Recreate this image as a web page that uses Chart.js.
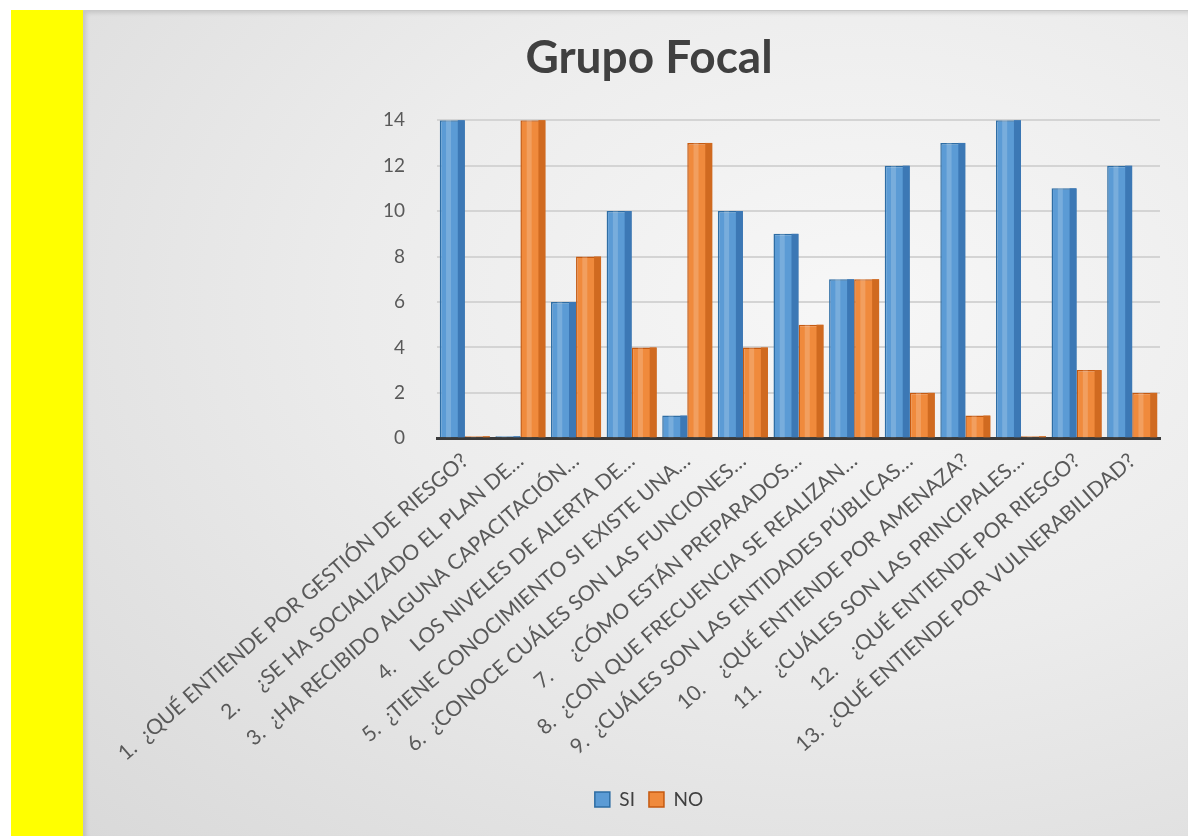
<!DOCTYPE html>
<html>
<head>
<meta charset="utf-8">
<script src="https://cdn.jsdelivr.net/npm/chart.js@4/dist/chart.umd.min.js"></script>
<style>
  html, body { margin: 0; padding: 0; background: #fff; }
  body { width: 1188px; height: 836px; position: relative; overflow: hidden; }
  #strip { position: absolute; left: 11px; top: 10px; width: 72px; height: 826px; background: #ffff00; }
  #panel {
    position: absolute; left: 83px; top: 10px; width: 1105px; height: 826px;
    background: radial-gradient(ellipse at 70% 35%, #f7f7f7 0%, #ececec 45%, #d9d9d9 100%);
    border-top: 1px solid #c8c8c8;
    box-shadow: inset 3px 2px 4px rgba(0,0,0,0.12);
  }
  #panel canvas { position: absolute; left: 0; top: 0; }
</style>
</head>
<body>
<div id="strip"></div>
<div id="panel"><canvas id="chart" width="1105" height="826"></canvas></div>
<script>
const questions = [
  '1.  ¿QUÉ ENTIENDE POR GESTIÓN DE RIESGO?',
  '2.     ¿SE HA SOCIALIZADO EL PLAN DE…',
  '3.  ¿HA RECIBIDO ALGUNA CAPACITACIÓN…',
  '4.     LOS NIVELES DE ALERTA DE…',
  '5.  ¿TIENE CONOCIMIENTO SI EXISTE UNA…',
  '6.  ¿CONOCE CUÁLES SON LAS FUNCIONES…',
  '7.     ¿CÓMO ESTÁN PREPARADOS…',
  '8.  ¿CON QUE FRECUENCIA SE REALIZAN…',
  '9.  ¿CUÁLES SON LAS ENTIDADES PÚBLICAS…',
  '10.    ¿QUÉ ENTIENDE POR AMENAZA?',
  '11.    ¿CUÁLES SON LAS PRINCIPALES…',
  '12.    ¿QUÉ ENTIENDE POR RIESGO?',
  '13.  ¿QUÉ ENTIENDE POR VULNERABILIDAD?'
]
const siValues = [14, 0, 6, 10, 1, 10, 9, 7, 12, 13, 14, 11, 12]
const noValues = [0, 14, 8, 4, 13, 4, 5, 7, 2, 1, 0, 3, 2]
const yTicks = [0, 2, 4, 6, 8, 10, 12, 14]

// fake the 3d look: darker side strip and a lighter stripe on each bar
const bevel = {
  id: 'bevel',
  afterDatasetsDraw(chart) {
    const ctx = chart.ctx
    chart.data.datasets.forEach((ds, i) => {
      chart.getDatasetMeta(i).data.forEach((bar) => {
        const w = bar.width
        const h = bar.base - bar.y
        if (h < 1) return
        const left = bar.x - w / 2
        ctx.save()
        ctx.fillStyle = ds.sideColor
        ctx.fillRect(left + w * 0.72, bar.y, w * 0.28, h)
        ctx.fillStyle = 'rgba(255,255,255,0.18)'
        ctx.fillRect(left + w * 0.25, bar.y, w * 0.2, h)
        ctx.restore()
      })
    })
  }
}

const ctx = document.getElementById('chart')
new Chart(ctx, {
  type: 'bar',
  data: {
    labels: questions,
    datasets: [
      { label: 'SI', data: siValues, backgroundColor: '#5b9bd5', borderColor: '#2e6da4', borderWidth: 1.5, sideColor: '#3c78b5' },
      { label: 'NO', data: noValues, backgroundColor: '#f08a3c', borderColor: '#c55a11', borderWidth: 1.5, sideColor: '#d06a20' }
    ]
  },
  options: {
    responsive: false,
    animation: false,
    layout: { padding: { top: 16, right: 28, bottom: 18, left: 55 } },
    datasets: { bar: { categoryPercentage: 0.9, barPercentage: 1.0, minBarLength: 2 } },
    plugins: {
      title: {
        display: true, text: 'Grupo Focal', color: '#404040',
        font: { family: 'Lato', size: 46, weight: 'bold' },
        padding: { top: 4, bottom: 34 }
      },
      legend: {
        position: 'bottom',
        labels: {
          color: '#404040', boxWidth: 15, boxHeight: 15, padding: 14,
          font: { family: 'Lato', size: 19 }
        }
      },
      tooltip: { enabled: false }
    },
    scales: {
      x: {
        grid: { display: false, drawTicks: false },
        border: { display: true, color: '#3a3a3a', width: 3 },
        ticks: {
          autoSkip: false, minRotation: 41, maxRotation: 41, padding: 10,
          color: '#595959', font: { family: 'Lato', size: 21 }
        }
      },
      y: {
        min: 0, max: 14,
        afterBuildTicks: (scale) => { scale.ticks = yTicks.map((v) => ({ value: v })) },
        afterFit: (scale) => { scale.width = 299 },
        grid: { color: '#d4d4d4', lineWidth: 2, drawTicks: false },
        border: { display: false },
        ticks: { padding: 32, color: '#595959', font: { family: 'Lato', size: 19 } }
      }
    }
  },
  plugins: [bevel]
})
</script>
</body>
</html>
